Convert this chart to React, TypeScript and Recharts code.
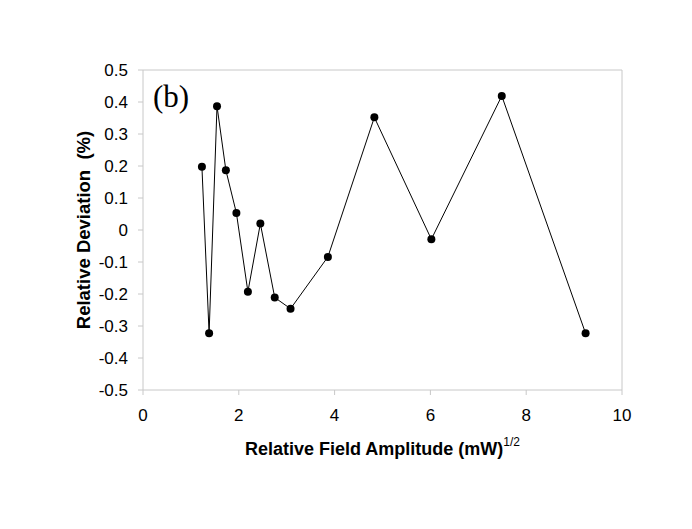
import { LineChart, Line, XAxis, YAxis, ReferenceLine } from 'recharts';

// field amplitude (mW)^1/2 and relative deviation (%)
const amplitude = [1.23, 1.38, 1.545, 1.73, 1.95, 2.19, 2.45, 2.75, 3.08, 3.86, 4.83, 6.02, 7.49, 9.24];
const deviation = [0.198, -0.323, 0.387, 0.187, 0.053, -0.193, 0.02, -0.211, -0.246, -0.084, 0.352, -0.029, 0.419, -0.323];

const xTicks = [0, 2, 4, 6, 8, 10];
const yTicks = [-0.5, -0.4, -0.3, -0.2, -0.1, 0, 0.1, 0.2, 0.3, 0.4, 0.5];

const data = amplitude.map((x, i) => ({ x, y: deviation[i] }));

const gray = '#c8c8c8';
const font = '"Liberation Sans", Arial, sans-serif';

const YLabel = (props: any) => {
  const vb = props.viewBox;
  const cy = vb.y + vb.height / 2;
  return (
    <text x={83} y={cy} transform={`rotate(-90, 83, ${cy})`} textAnchor="middle" dominantBaseline="central"
      fontFamily={font} fontWeight="bold" fontSize={18.5} fill="#000">
      {'Relative Deviation\u00a0 (%)'}
    </text>
  );
};

const XLabel = (props: any) => {
  const vb = props.viewBox;
  const cx = vb.x + vb.width / 2;
  return (
    <text x={cx} y={455} textAnchor="middle" fontFamily={font} fontSize={18} fill="#000">
      <tspan fontWeight="bold">Relative Field Amplitude (mW)</tspan>
      <tspan dy={-9} fontSize={12}>1/2</tspan>
    </text>
  );
};

export default function App() {
  return (
    <div style={{ position: 'absolute', left: 0, top: 0, width: 692, height: 529, background: '#fff' }}>
      <LineChart width={692} height={529} data={data} margin={{ top: 70, right: 70, bottom: 99, left: 0 }}>
        <XAxis dataKey="x" type="number" domain={[0, 10]} ticks={xTicks} height={40}
          stroke={gray} tickSize={5} tickMargin={14}
          tick={{ fill: '#000', fontSize: 17, fontFamily: font }}
          label={<XLabel />} />
        <YAxis type="number" domain={[-0.5, 0.5]} ticks={yTicks} width={143}
          stroke={gray} tickSize={5} tickMargin={10}
          tickFormatter={(v: number) => (v === 0 ? '0' : v.toFixed(1))}
          tick={{ fill: '#000', fontSize: 17, fontFamily: font }}
          label={<YLabel />} />
        <ReferenceLine y={0.5} stroke={gray} />
        <ReferenceLine x={10} stroke={gray} />
        <Line dataKey="y" stroke="#000" strokeWidth={1} isAnimationActive={false}
          dot={{ r: 4, fill: '#000', stroke: '#000', strokeWidth: 0 }} />
      </LineChart>
      <span style={{ position: 'absolute', left: 153, top: 79, fontFamily: '"Liberation Serif", "Times New Roman", serif', fontSize: 31, lineHeight: '36px' }}>
        (b)
      </span>
    </div>
  );
}
